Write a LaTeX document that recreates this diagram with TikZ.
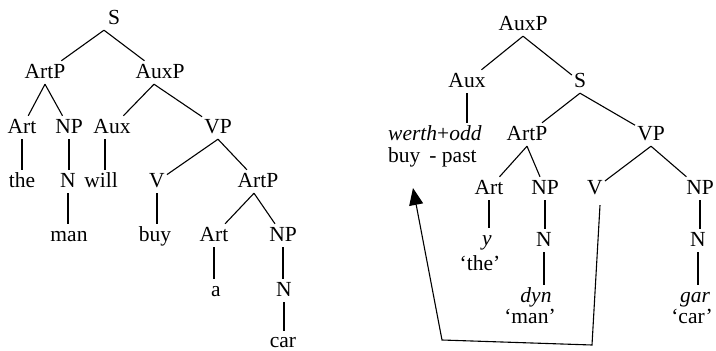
\documentclass[tikz,border=0pt]{standalone}
\usepackage{fontspec}
\setmainfont{Liberation Serif}
\usetikzlibrary{arrows.meta, calc}

\begin{document}
\begin{tikzpicture}[
    x=1pt, y=-1pt,
    cat/.style={anchor=base, inner sep=2pt, text height=15pt, text depth=4pt,
                font=\fontsize{21.5}{24}\selectfont},
    gloss/.style={cat, anchor=base west},
    branch/.style={line width=1.1pt},
    arrow/.style={-{Triangle[length=17pt, width=14pt]}, line width=1.1pt},
  ]
    \useasboundingbox (0,0) rectangle (716,351);

    % Left tree
    \node[cat] (ls) at (114,24) {S};
    \node[cat] (lartp) at (45,78) {ArtP};
    \node[cat] (lauxp) at (160,78) {AuxP};
    \node[cat] (lart) at (22,133) {Art};
    \node[cat] (lnp) at (69,133) {NP};
    \node[cat] (laux) at (112,133) {Aux};
    \node[cat] (lvp) at (218,133) {VP};
    \node[cat] (the) at (22,187) {the};
    \node[cat] (ln) at (68,187) {N};
    \node[cat] (will) at (101,187) {will};
    \node[cat] (lv) at (157,187) {V};
    \node[cat] (lartp2) at (258,187) {ArtP};
    \node[cat] (man) at (69,241) {man};
    \node[cat] (buy) at (155,241) {buy};
    \node[cat] (lart2) at (214,241) {Art};
    \node[cat] (lnp2) at (283,241) {NP};
    \node[cat] (a) at (216,296) {a};
    \node[cat] (ln2) at (284,296) {N};
    \node[cat, text depth=0pt, inner sep=1pt] (car) at (283,347) {car};

    \draw[branch] ([xshift=-10pt]ls.south) -- (lartp);
    \draw[branch] ([xshift=-10pt]ls.south) -- (lauxp);
    \draw[branch] (lartp.south) -- (lart);
    \draw[branch] (lartp.south) -- (lnp);
    \draw[branch] ([xshift=-6pt]lauxp.south) -- (laux);
    \draw[branch] ([xshift=-6pt]lauxp.south) -- (lvp);
    \draw[branch] (lvp.south) -- (lv);
    \draw[branch] (lvp.south) -- (lartp2);
    \draw[branch] ([xshift=-4pt]lartp2.south) -- (lart2);
    \draw[branch] ([xshift=-4pt]lartp2.south) -- (lnp2);
    \draw[branch] (lart.south) -- (lart.south |- the.north);
    \draw[branch] (lnp.south) -- (lnp.south |- ln.north);
    \draw[branch] ([xshift=-7pt]laux.south) -- ([xshift=4pt]will.north);
    \draw[branch] (lv.south) -- (lv.south |- buy.north);
    \draw[branch] (ln.south) -- (ln.south |- man.north);
    \draw[branch] (lart2.south) -- (lart2.south |- a.north);
    \draw[branch] (lnp2.south) -- (lnp2.south |- ln2.north);
    \draw[branch] (ln2.south) -- (ln2.south |- car.north);

    % Right tree
    \node[cat] (rauxp) at (523,30) {AuxP};
    \node[cat] (raux) at (467,87) {Aux};
    \node[cat] (rs) at (580,87) {S};
    \node[gloss] (werth) at (386,140) {\textit{werth}+\textit{odd}};
    \node[cat] (rartp) at (527,140) {ArtP};
    \node[cat] (rvp) at (651,140) {VP};
    \node[gloss] (buypast) at (386,162) {buy\hspace{9pt}- past};
    \node[cat] (rart) at (489,194) {Art};
    \node[cat] (rnp) at (545,194) {NP};
    \node[cat] (rv) at (595,194) {V};
    \node[cat] (rnp2) at (700,194) {NP};
    \node[cat] (y) at (487,245) {\textit{y}};
    \node[cat] (rn) at (544,246) {N};
    \node[cat] (rn2) at (698,246) {N};
    \node[cat] (gthe) at (480,270) {‘the’};
    \node[cat] (dyn) at (536,302) {\textit{dyn}};
    \node[cat] (gman) at (530,323) {‘man’};
    \node[cat] (gar) at (695,302) {\textit{gar}};
    \node[cat] (gcar) at (692,323) {‘car’};

    \draw[branch] (rauxp.south) -- (raux);
    \draw[branch] (rauxp.south) -- (rs);
    \draw[branch] (rs.south) -- (rartp);
    \draw[branch] (rs.south) -- (rvp);
    \draw[branch] (rartp.south) -- (rart);
    \draw[branch] (rartp.south) -- (rnp);
    \draw[branch] (rvp.south) -- (rv);
    \draw[branch] (rvp.south) -- (rnp2);
    \draw[branch] (raux.south) -- (raux.south |- werth.north);
    \draw[branch] (rart.south) -- (rart.south |- y.north);
    \draw[branch] (rnp.south) -- (rnp.south |- rn.north);
    \draw[branch] (rn.south) -- (rn.south |- dyn.north);
    \draw[branch] (rnp2.south) -- (rnp2.south |- rn2.north);
    \draw[branch] (rn2.south) -- (rn2.south |- gar.north);

    % Movement arrow
    \coordinate (botR) at (592,345);
    \coordinate (botL) at (442,340);
    \coordinate (tip) at (413,188);
    \draw[arrow] ([shift={(5pt,-5pt)}]rv.south) -- (botR) -- (botL) -- (tip);
  \end{tikzpicture}
\end{document}
